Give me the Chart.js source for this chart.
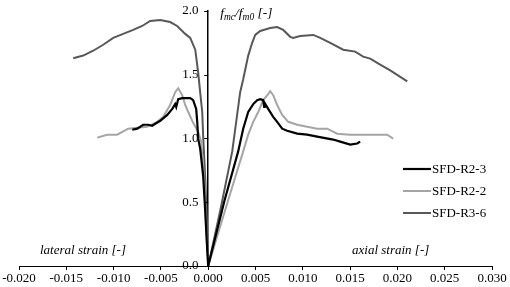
<!DOCTYPE html>
<html>
<head>
<meta charset="utf-8">
<script src="https://cdn.jsdelivr.net/npm/chart.js@4.4.1/dist/chart.umd.min.js"></script>
<style>
  html, body { margin: 0; padding: 0; background: #fff; }
  #wrap { width: 510px; height: 287px; }
</style>
</head>
<body>
<div id="wrap"><canvas id="strainChart"></canvas></div>
<script>
// 데이터: 측면 변형률(음수) -> 원점 -> 축 변형률(양수)
const seriesNames = ['SFD-R2-3', 'SFD-R2-2', 'SFD-R3-6'];
const seriesColors = ['#000000', '#a5a5a5', '#585858'];

const r23X = [-0.00803, -0.0075, -0.00687, -0.00634, -0.00592, -0.0056, -0.00507, -0.00433, -0.0038, -0.00349, -0.00338, -0.00317, -0.00275, -0.0019, -0.00159, -0.00127, -0.00116, -0.00106, -0.00085, -0.00053, -0.00032, -0.0001, 0,
  0.00169, 0.00317, 0.0037, 0.00423, 0.00476, 0.00518, 0.0055, 0.00581, 0.00592, 0.00597, 0.00634, 0.00687, 0.00729, 0.00782, 0.00835, 0.00941, 0.01046, 0.01152, 0.01321, 0.01395, 0.01501, 0.01575, 0.01606];
const r23Y = [1.068, 1.076, 1.107, 1.107, 1.099, 1.115, 1.138, 1.184, 1.231, 1.269, 1.246, 1.308, 1.316, 1.316, 1.3, 1.231, 1.13, 0.998, 0.921, 0.704, 0.433, 0.124, 0,
  0.503, 0.898, 1.076, 1.207, 1.269, 1.3, 1.308, 1.3, 1.246, 1.277, 1.231, 1.169, 1.13, 1.076, 1.06, 1.037, 1.029, 1.014, 0.991, 0.975, 0.952, 0.96, 0.975];

const r22X = [-0.01173, -0.01068, -0.00962, -0.00846, -0.0075, -0.00645, -0.00539, -0.00476, -0.00402, -0.00349, -0.00317, -0.00275, -0.00243, -0.00211, -0.00159, -0.00106, -0.00074, -0.00042, -0.00021, 0,
  0.00206, 0.0037, 0.00423, 0.00476, 0.00529, 0.00581, 0.00634, 0.00655, 0.00687, 0.00729, 0.00782, 0.00846, 0.00941, 0.01046, 0.01152, 0.01258, 0.01363, 0.01501, 0.01638, 0.01786, 0.01892, 0.01955];
const r22Y = [1.006, 1.029, 1.029, 1.076, 1.084, 1.091, 1.13, 1.169, 1.262, 1.362, 1.393, 1.339, 1.262, 1.207, 1.122, 1.053, 0.975, 0.666, 0.279, 0,
  0.503, 0.898, 1.029, 1.13, 1.207, 1.3, 1.347, 1.37, 1.339, 1.262, 1.184, 1.13, 1.107, 1.091, 1.076, 1.076, 1.037, 1.029, 1.029, 1.029, 1.029, 0.998];

const r36X = [-0.01427, -0.01321, -0.01216, -0.0111, -0.01004, -0.00899, -0.00793, -0.00698, -0.00613, -0.00507, -0.00402, -0.00328, -0.00243, -0.0019, -0.00137, -0.00106, -0.00085, -0.00063, -0.00053, -0.0003, -0.0001, 0,
  0.00127, 0.00254, 0.00338, 0.0037, 0.00423, 0.00465, 0.00497, 0.0055, 0.00655, 0.00729, 0.00793, 0.00867, 0.00898, 0.00972, 0.0111, 0.01184, 0.0129, 0.01427, 0.01554, 0.01638, 0.01712, 0.01818, 0.01924, 0.02104];
const r36Y = [1.628, 1.649, 1.687, 1.734, 1.788, 1.819, 1.85, 1.881, 1.92, 1.927, 1.912, 1.881, 1.819, 1.788, 1.695, 1.517, 1.362, 1.207, 1.014, 0.666, 0.28, 0,
  0.433, 0.898, 1.362, 1.463, 1.649, 1.749, 1.811, 1.842, 1.865, 1.873, 1.85, 1.796, 1.788, 1.803, 1.811, 1.788, 1.749, 1.695, 1.68, 1.641, 1.625, 1.579, 1.533, 1.447];

// 축 눈금
const xTicks = [-0.020, -0.015, -0.010, -0.005, 0.000, 0.005, 0.010, 0.015, 0.020, 0.025, 0.030];
const yTicks = [0.0, 0.5, 1.0, 1.5, 2.0];

const FONT = '"Liberation Serif", "Times New Roman", serif';

function toPoints(xs, ys) {
  const pts = [];
  for (let i = 0; i < xs.length; i++) {
    pts.push({ x: xs[i], y: ys[i] });
  }
  return pts;
}

const allX = [r23X, r22X, r36X];
const allY = [r23Y, r22Y, r36Y];

const datasets = seriesNames.map((name, i) => ({
  label: name,
  data: toPoints(allX[i], allY[i]),
  borderColor: seriesColors[i],
  backgroundColor: seriesColors[i],
  borderWidth: i === 0 ? 2.2 : 2,
  pointRadius: 0,
  tension: 0,
  showLine: true,
  fill: false
}));

// 축 제목, 범례, y축 눈금선을 직접 그리는 플러그인
const annotations = {
  id: 'annotations',
  afterDraw(chart) {
    const ctx = chart.ctx;
    const yScale = chart.scales.y;
    const xScale = chart.scales.x;
    const x0 = xScale.getPixelForValue(0);
    ctx.save();

    // y축 눈금 (축 왼쪽으로 짧게)
    ctx.strokeStyle = '#000';
    ctx.lineWidth = 1;
    yTicks.forEach(v => {
      const py = Math.round(yScale.getPixelForValue(v)) + 0.5;
      ctx.beginPath();
      ctx.moveTo(x0 - 4, py);
      ctx.lineTo(x0, py);
      ctx.stroke();
    });

    ctx.fillStyle = '#000';
    ctx.textBaseline = 'alphabetic';

    // y축 제목 f_mc/f_m0 [-]
    let tx = x0 + 12;
    const ty = yScale.getPixelForValue(2.0) + 6;
    const parts = [
      ['f', 13.5, 0], ['mc', 9.5, 3], ['/f', 13.5, 0], ['m0', 9.5, 3], [' [-]', 13.5, 0]
    ];
    parts.forEach(p => {
      ctx.font = 'italic ' + p[1] + 'px ' + FONT;
      ctx.fillText(p[0], tx, ty + p[2]);
      tx += ctx.measureText(p[0]).width;
    });

    // x축 설명
    ctx.font = 'italic 13px ' + FONT;
    ctx.textBaseline = 'middle';
    ctx.textAlign = 'left';
    ctx.fillText('lateral strain [-]', 40, 251);
    ctx.fillText('axial strain [-]', 352, 251);

    // 범례
    ctx.font = '13px ' + FONT;
    const rows = [169, 191, 213];
    chart.data.datasets.forEach((ds, i) => {
      ctx.strokeStyle = ds.borderColor;
      ctx.lineWidth = ds.borderWidth;
      ctx.beginPath();
      ctx.moveTo(403, rows[i]);
      ctx.lineTo(431, rows[i]);
      ctx.stroke();
      ctx.fillText(ds.label, 432, rows[i] + 1);
    });
    ctx.restore();
  }
};

new Chart(document.getElementById('strainChart'), {
  type: 'scatter',
  data: { datasets: datasets },
  options: {
    responsive: true,
    maintainAspectRatio: false,
    animation: false,
    layout: { padding: { left: 19, right: 18, top: 8, bottom: 0 } },
    plugins: {
      legend: { display: false },
      tooltip: { enabled: false }
    },
    scales: {
      x: {
        type: 'linear',
        min: -0.02,
        max: 0.03,
        afterBuildTicks: (scale) => { scale.ticks = xTicks.map(v => ({ value: v })); },
        afterFit: (scale) => { scale.height = 21; },
        ticks: {
          color: '#000',
          font: { family: FONT, size: 13 },
          padding: 1,
          maxRotation: 0,
          callback: (v) => (Math.abs(v) < 1e-9 ? 0 : v).toFixed(3)
        },
        grid: { drawOnChartArea: false, tickLength: 4, color: '#000' },
        border: { color: '#000', width: 1 }
      },
      y: {
        type: 'linear',
        position: { x: 0 },
        min: 0,
        max: 2,
        afterBuildTicks: (scale) => { scale.ticks = yTicks.map(v => ({ value: v })); },
        ticks: {
          color: '#000',
          font: { family: FONT, size: 13 },
          // 축 중앙 배치 시 라벨이 축선에 붙으므로 뒤에 공백을 둠
          callback: (v) => v.toFixed(1) + '   '
        },
        grid: { drawOnChartArea: false, drawTicks: false },
        border: { color: '#000', width: 1.5 }
      }
    }
  },
  plugins: [annotations]
});
</script>
</body>
</html>
